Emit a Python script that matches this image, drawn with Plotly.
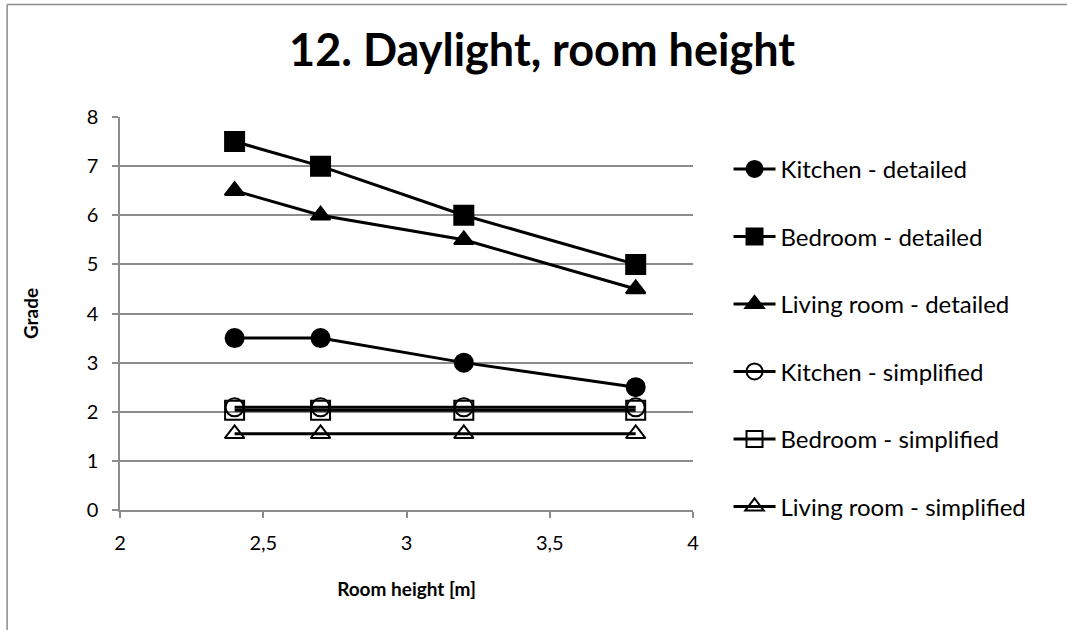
import plotly.graph_objects as go

# Room heights [m]
room_height = [2.4, 2.7, 3.2, 3.8]

# Daylight grades per room and method
kitchen_detailed = [3.5, 3.5, 3.0, 2.5]
bedroom_detailed = [7.5, 7.0, 6.0, 5.0]
living_detailed = [6.5, 6.0, 5.5, 4.5]
kitchen_simplified = [2.09, 2.09, 2.09, 2.09]
bedroom_simplified = [2.03, 2.03, 2.03, 2.03]
living_simplified = [1.55, 1.55, 1.55, 1.55]

series = [
    ("Kitchen - detailed", kitchen_detailed, "circle", 18),
    ("Bedroom - detailed", bedroom_detailed, "square", 19),
    ("Living room - detailed", living_detailed, "triangle-up", 17),
    ("Kitchen - simplified", kitchen_simplified, "circle-open", 18),
    ("Bedroom - simplified", bedroom_simplified, "square-open", 19),
    ("Living room - simplified", living_simplified, "triangle-up-open", 17),
]

FONT = "Lato, 'Open Sans', sans-serif"
GRID = "#8c8c8c"

fig = go.Figure()
for i, (name, vals, sym, size) in enumerate(series):
    fig.add_trace(go.Scatter(
        x=room_height, y=vals, name=name, mode="lines+markers",
        line=dict(color="black", width=3),
        marker=dict(symbol=sym, size=size, color="black",
                    line=dict(color="black", width=2)),
        legendgroup=f"g{i}",
    ))

fig.update_layout(
    width=1067, height=630,
    margin=dict(l=120, r=374, t=117, b=120),
    paper_bgcolor="white", plot_bgcolor="white",
    separators=", ",
    font=dict(family=FONT, size=20, color="black"),
    title=dict(text="<b>12. Daylight, room height</b>", x=0.508, xanchor="center",
               y=0.92, yanchor="middle", font=dict(size=45, family=FONT)),
    showlegend=True,
    legend=dict(x=1.062, xanchor="left", y=0.924, yanchor="top",
                font=dict(size=24, family=FONT), tracegroupgap=33.3,
                itemwidth=42, maxheight=1.0,
                bgcolor="rgba(0,0,0,0)"),
    xaxis=dict(range=[2, 4], dtick=0.5, tick0=2, showgrid=False,
               showline=True, linecolor=GRID, linewidth=1.5,
               ticks="outside", ticklen=6, tickcolor=GRID, tickwidth=1.5,
               ticklabelstandoff=8, zeroline=False,
               tickfont=dict(size=20),
               title=dict(text="<b>Room height [m]</b>", font=dict(size=19), standoff=30)),
    yaxis=dict(range=[0, 8], dtick=1, showgrid=True, gridcolor=GRID, gridwidth=1.5,
               showline=True, linecolor=GRID, linewidth=1.5,
               ticks="outside", ticklen=6, tickcolor=GRID, tickwidth=1.5,
               ticklabelstandoff=10, zeroline=False,
               tickfont=dict(size=20),
               title=dict(text="<b>Grade</b>", font=dict(size=19), standoff=43)),
)

# Chart-area border along the top and left edges
fig.add_shape(type="line", xref="paper", yref="paper", x0=-0.197, x1=1.7, y0=1.286, y1=1.286,
              line=dict(color="#8c8c8c", width=1.5))
fig.add_shape(type="line", xref="paper", yref="paper", x0=-0.197, x1=-0.197, y0=1.286, y1=-0.4,
              line=dict(color="#8c8c8c", width=1.5))

fig.write_html("out.html")
